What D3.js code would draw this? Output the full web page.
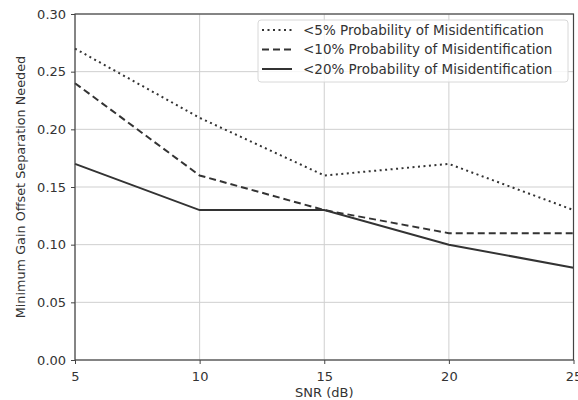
<!DOCTYPE html>
<html>
<head>
<meta charset="utf-8">
<script src="https://cdn.jsdelivr.net/npm/d3@7"></script>
<style>
  body { margin: 0; background: #fff; }
  text { font-family: "DejaVu Sans", sans-serif; fill: #333; }
</style>
</head>
<body>
<div id="chart"></div>
<script>
// SNR values on the x axis
const snr = [5, 10, 15, 20, 25];
// minimum gain offset separation for each probability bound
const p5 = [0.27, 0.21, 0.16, 0.17, 0.13];
const p10 = [0.24, 0.16, 0.13, 0.11, 0.11];
const p20 = [0.17, 0.13, 0.13, 0.10, 0.08];
const seriesNames = ["<5% Probability of Misidentification", "<10% Probability of Misidentification", "<20% Probability of Misidentification"];
const xTicks = [5, 10, 15, 20, 25];
const yTicks = [0, 0.05, 0.10, 0.15, 0.20, 0.25, 0.30];

function drawChart() {
  const width = 578,
    height = 400,
    margin = { "top": 14, "bottom": 40, "right": 4, "left": 75 }

  const svg = d3.select("#chart").append("svg")
    .attr("width", width)
    .attr("height", height)

  let x = d3.scaleLinear().domain([5, 25]).range([margin.left, width - margin.right - 0.5])
  let y = d3.scaleLinear().domain([0, 0.3]).range([height - margin.bottom, margin.top])

  // grid
  let grid = svg.append("g")
  grid.selectAll("line.gx")
    .data(xTicks)
    .enter()
    .append("line")
    .attr("x1", d => x(d)).attr("x2", d => x(d))
    .attr("y1", y(0)).attr("y2", y(0.3))
    .attr("stroke", "#cfcfcf").attr("stroke-width", 1)
  grid.selectAll("line.gy")
    .data(yTicks)
    .enter()
    .append("line")
    .attr("y1", d => y(d)).attr("y2", d => y(d))
    .attr("x1", x(5)).attr("x2", x(25))
    .attr("stroke", "#cfcfcf").attr("stroke-width", 1)

  // series lines
  let line = d3.line()
    .x((d, i) => x(snr[i]))
    .y(d => y(d))
  let styles = [
    { data: p5, dash: "2,3.5" },
    { data: p10, dash: "7,4" },
    { data: p20, dash: null }
  ]
  styles.forEach(s => {
    svg.append("path")
      .attr("d", line(s.data))
      .attr("fill", "none")
      .attr("stroke", "#333")
      .attr("stroke-width", 2)
      .attr("stroke-dasharray", s.dash)
  })

  // spines
  svg.append("rect")
    .attr("x", x(5)).attr("y", y(0.3))
    .attr("width", x(25) - x(5)).attr("height", y(0) - y(0.3))
    .attr("fill", "none").attr("stroke", "#444").attr("stroke-width", 1.2)

  // axes
  let xAxis = svg.append("g")
    .attr("transform", `translate(0,${y(0)})`)
    .call(d3.axisBottom(x).tickValues(xTicks).tickFormat(d3.format("d")).tickSize(4).tickSizeOuter(0))
  let yAxis = svg.append("g")
    .attr("transform", `translate(${x(5)},0)`)
    .call(d3.axisLeft(y).tickValues(yTicks).tickFormat(d3.format(".2f")).tickSize(4).tickSizeOuter(0))
  ;[xAxis, yAxis].forEach(a => {
    a.select(".domain").remove()
    a.selectAll(".tick line").attr("stroke", "#444")
    a.selectAll(".tick text").attr("font-size", 13).attr("fill", "#333")
      .attr("font-family", "DejaVu Sans, sans-serif")
  })
  xAxis.selectAll(".tick text").attr("dy", "1.05em")
  yAxis.selectAll(".tick text").attr("dx", "-0.15em")

  // axis labels
  svg.append("text")
    .text("SNR (dB)")
    .attr("x", x(15)).attr("y", 397)
    .attr("text-anchor", "middle")
    .attr("font-size", 13)
  svg.append("text")
    .text("Minimum Gain Offset Separation Needed")
    .attr("transform", `translate(24.5,${(y(0) + y(0.3)) / 2}) rotate(-90)`)
    .attr("text-anchor", "middle")
    .attr("font-size", 12.8)

  // legend
  let lg = svg.append("g")
  lg.append("rect")
    .attr("x", 258).attr("y", 20)
    .attr("width", 310).attr("height", 62)
    .attr("rx", 3)
    .attr("fill", "rgba(255,255,255,0.8)")
    .attr("stroke", "#d8d8d8")
  styles.forEach((s, i) => {
    let ly = 30 + i * 19.5
    lg.append("line")
      .attr("x1", 262).attr("x2", 292)
      .attr("y1", ly).attr("y2", ly)
      .attr("stroke", "#333").attr("stroke-width", 2)
      .attr("stroke-dasharray", s.dash)
    lg.append("text")
      .text(seriesNames[i])
      .attr("x", 303).attr("y", ly)
      .attr("dy", "0.35em")
      .attr("font-size", 13.5)
  })
}

drawChart()
</script>
</body>
</html>
